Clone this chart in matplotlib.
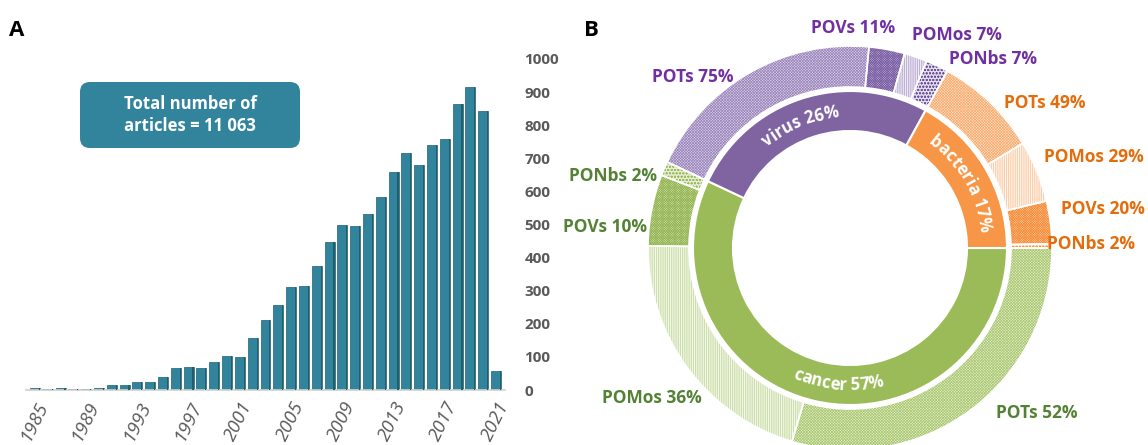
import matplotlib
matplotlib.use("Agg")
import matplotlib.pyplot as plt
from matplotlib.patches import FancyBboxPatch
from matplotlib.font_manager import FontProperties, findfont, get_font
import numpy as np

# ---------------- data ----------------
years = list(range(1985, 2022))
articles = [5, 3, 5, 3, 3, 5, 15, 15, 25, 25, 40, 65, 68, 66, 86, 103, 100,
            158, 212, 258, 310, 315, 375, 447, 498, 495, 532, 584, 660, 717,
            681, 740, 758, 864, 914, 843, 58]
y_ticks = list(range(0, 1001, 100))
total_text = "Total number of\narticles = 11 063"

categories = ["cancer", "virus", "bacteria"]
category_pct = [57, 26, 17]

cancer_types = ["POTs", "POMos", "POVs", "PONbs"]
cancer_pct = [52, 36, 10, 2]
virus_types = ["POTs", "POVs", "POMos", "PONbs"]
virus_pct = [75, 11, 7, 7]
bacteria_types = ["POTs", "POMos", "POVs", "PONbs"]
bacteria_pct = [49, 29, 20, 2]

# ---------------- style ----------------
W, H, DPI = 1148, 445, 100
FONT = "Open Sans"
TEAL = "#31849b"
TEAL_DARK = "#215f6f"
GREY = "#595959"

base_col = {"cancer": "#9bbb59", "virus": "#8064a2", "bacteria": "#f79646"}
label_col = {"cancer": "#548235", "virus": "#7030a0", "bacteria": "#e46c0a"}
# (face, hatch colour, hatch) per family and sub-type
texture = {
    "cancer": {"POTs": ("#e6eed6", "#a9c76d", "x" * 12),
               "POMos": ("#f4f8ec", "#bcd48f", "|" * 9),
               "POVs": ("#d3e1b4", "#93b552", "x" * 14),
               "PONbs": ("#e8efd8", "#9bbb59", "o" * 5)},
    "virus": {"POTs": ("#ddd5e9", "#9a84bb", "x" * 12),
              "POVs": ("#bcadd3", "#7a5ea3", "x" * 14),
              "POMos": ("#f2eef7", "#a896c6", "|" * 9),
              "PONbs": ("#e4ddee", "#6f539a", "o" * 5)},
    "bacteria": {"POTs": ("#fde4d0", "#f9ab6d", "x" * 12),
                 "POMos": ("#fef5ec", "#fbc093", "|" * 9),
                 "POVs": ("#fccfaa", "#f68d3a", "x" * 14),
                 "PONbs": ("#fde8d7", "#f79646", "o" * 5)},
}

plt.rcParams["font.family"] = [FONT, "DejaVu Sans"]
plt.rcParams["hatch.linewidth"] = 0.5

fig = plt.figure(figsize=(W / DPI, H / DPI), dpi=DPI)


def px_axes(left, top, width, height):
    return fig.add_axes([left / W, 1 - (top + height) / H, width / W, height / H])


# ---------------- panel A: bar chart ----------------
axA = px_axes(26, 59, 479, 331)
x = np.arange(len(years))
axA.bar(x, articles, width=0.78, color=TEAL, edgecolor=TEAL_DARK, linewidth=0.5, zorder=2)
# darker right-hand face for a slight 3D look
axA.bar(x + 0.39, articles, width=-0.09, align="edge", color=TEAL_DARK,
        linewidth=0, zorder=3)
axA.set_xlim(-0.7, len(years) - 0.3)
axA.set_ylim(0, 1000)
axA.yaxis.tick_right()
axA.set_yticks(y_ticks)
axA.set_yticklabels([str(v) for v in y_ticks], fontsize=11, fontweight="bold", color=GREY)
axA.tick_params(axis="y", length=0, pad=14)
tick_idx = x[::4]
axA.set_xticks(tick_idx)
axA.set_xticklabels([str(years[i]) for i in tick_idx], rotation=64, ha="right",
                    rotation_mode="anchor", fontsize=13.5, fontstyle="italic",
                    color=GREY)
axA.tick_params(axis="x", length=0, pad=6)
for side in ("top", "left", "right"):
    axA.spines[side].set_visible(False)
axA.spines["bottom"].set_color("#d0d0d0")
axA.spines["bottom"].set_linewidth(1.2)
axA.set_facecolor("none")

# ---------------- panel B: sunburst donut ----------------
CX, CY, HALF = 850, 248, 215
axB = px_axes(CX - HALF, CY - HALF, 2 * HALF, 2 * HALF)
axB.set_facecolor("none")

sub_types = {"cancer": cancer_types, "virus": virus_types, "bacteria": bacteria_types}
sub_pct = {"cancer": cancer_pct, "virus": virus_pct, "bacteria": bacteria_pct}

# inner ring: categories
axB.pie(category_pct, radius=157, startangle=0, counterclock=False,
        colors=[base_col[c] for c in categories],
        wedgeprops=dict(width=40, edgecolor="white", linewidth=1.5))

# outer ring: sub-types, share of the whole
outer_vals, faces, hcols, hatches = [], [], [], []
for c, cp in zip(categories, category_pct):
    for t, p in zip(sub_types[c], sub_pct[c]):
        outer_vals.append(cp * p / 100)
        f, hc, h = texture[c][t]
        faces.append(f)
        hcols.append(hc)
        hatches.append(h)

outer_w, _ = axB.pie(outer_vals, radius=202, startangle=0, counterclock=False,
                     colors=faces, hatch=hatches,
                     wedgeprops=dict(width=41, linewidth=0))
for w, hc in zip(outer_w, hcols):
    w.set_edgecolor(hc)
    w.set_linewidth(0)
# white borders between outer segments
axB.pie(outer_vals, radius=202, startangle=0, counterclock=False,
        colors=["none"] * len(outer_vals),
        wedgeprops=dict(width=41, edgecolor="white", linewidth=1.2, fill=False))

axB.set_xlim(-HALF, HALF)
axB.set_ylim(-HALF, HALF)
axB.set_aspect("equal")
axB.axis("off")


def arc_text(ax, s, mid_deg, r, size, color, outward=True):
    """Write s along a circle of radius r (data units = pixels)."""
    fp = FontProperties(family=FONT, weight="bold", size=size)
    font = get_font(findfont(fp))
    font.set_size(size, 72)
    adv = [font.load_char(ord(ch)).linearHoriAdvance / 65536 * DPI / 72 for ch in s]
    total = sum(adv)
    pos = np.cumsum([0] + adv[:-1]) + np.array(adv) / 2 - total / 2
    for ch, p in zip(s, pos):
        off = np.degrees(p / r)
        if outward:
            th = mid_deg - off
            rot = th - 90
        else:
            th = mid_deg + off
            rot = th + 90
        t = np.radians(th)
        ax.text(r * np.cos(t), r * np.sin(t), ch, rotation=rot, ha="center",
                va="baseline", rotation_mode="anchor", fontproperties=fp,
                color=color)


arc_text(axB, f"virus {category_pct[1]}%", 112, 131, 12, "white", outward=True)
arc_text(axB, f"bacteria {category_pct[2]}%", 30, 131, 12, "white", outward=True)
arc_text(axB, f"cancer {category_pct[0]}%", 265, 142, 12, "white", outward=False)

# ---------------- overlay: panel letters, box, ring labels ----------------
ov = fig.add_axes([0, 0, 1, 1])
ov.set_xlim(0, W)
ov.set_ylim(H, 0)
ov.axis("off")
ov.set_facecolor("none")

ov.text(17, 31, "A", fontsize=16, fontweight="bold", ha="center", va="center", color="black")
ov.text(591, 31, "B", fontsize=16, fontweight="bold", ha="center", va="center", color="black")

box = FancyBboxPatch((80, 82), 220, 66, boxstyle="round,pad=0,rounding_size=10",
                     facecolor=TEAL, edgecolor="none")
ov.add_patch(box)
ov.text(190, 115, total_text, ha="center", va="center", color="white",
        fontsize=12, fontweight="bold", linespacing=1.35)

label_pos = {
    ("virus", "POVs"): (853, 28),
    ("virus", "POMos"): (957, 35),
    ("virus", "PONbs"): (993, 59),
    ("virus", "POTs"): (693, 77),
    ("bacteria", "POTs"): (1045, 103),
    ("bacteria", "POMos"): (1094, 157),
    ("bacteria", "POVs"): (1103, 209),
    ("bacteria", "PONbs"): (1091, 244),
    ("cancer", "PONbs"): (613, 176),
    ("cancer", "POVs"): (605, 227),
    ("cancer", "POMos"): (652, 398),
    ("cancer", "POTs"): (1037, 413),
}
for c in categories:
    for t, p in zip(sub_types[c], sub_pct[c]):
        lx, ly = label_pos[(c, t)]
        ov.text(lx, ly, f"{t} {p}%", ha="center", va="center", fontsize=12.5,
                fontweight="bold", color=label_col[c])

fig.savefig("out.png", dpi=DPI)
